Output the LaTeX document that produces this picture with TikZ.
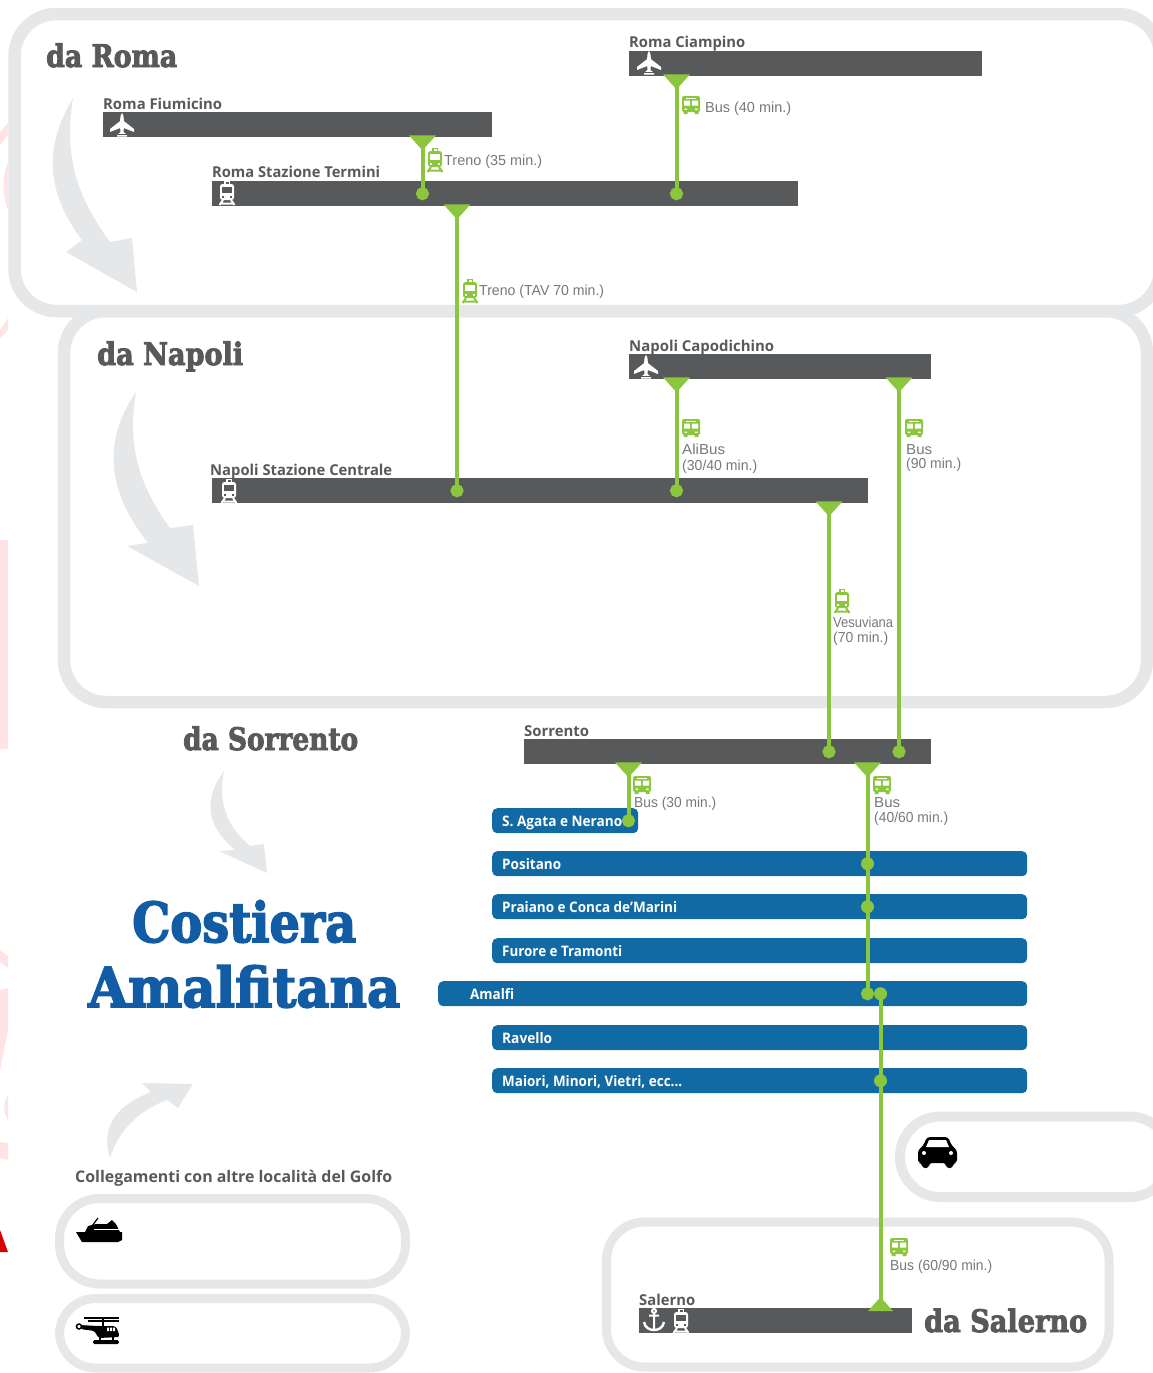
\documentclass[tikz,border=0pt]{standalone}
\usepackage{fontspec}
\usepackage{graphicx}
\usetikzlibrary{arrows.meta}
\newfontfamily\slabf{DejaVu Serif}[BoldFeatures={FakeBold=3}]
\newfontfamily\semif{Open Sans}
\newfontfamily\thinf{Liberation Sans}
\definecolor{band}{HTML}{E6E7E8}
\definecolor{darkbar}{HTML}{58595B}
\definecolor{bluebar}{HTML}{116AA3}
\definecolor{lime}{HTML}{8CC63F}
\definecolor{titleblue}{HTML}{125CA5}
\definecolor{thingrey}{HTML}{77787B}
\definecolor{pinkish}{HTML}{FFE3E5}
\newcommand\fitw[2]{\resizebox{#1pt}{\height}{#2}}
\tikzset{
  x=1pt,y=-1pt,
  panel/.style={draw=band,line width=#1,fill=none},
  panel/.default=10pt,
  greybar/.style={fill=darkbar,inner sep=0,anchor=north west,minimum height=25pt},
  bluestrip/.style={fill=bluebar,rounded corners=5pt,inner sep=0,anchor=north west,minimum height=25pt},
  link/.style={draw=lime,line width=4pt},
  down/.style={link,{Triangle[reversed,length=15pt,width=26pt,fill=lime]}-{Circle[length=13pt,fill=lime]},shorten >=-6.5pt,shorten <=-2pt},
  stopdot/.style={circle,fill=lime,inner sep=0,minimum size=13pt},
  head/.style={anchor=base west,inner sep=0,text=darkbar,font=\slabf\bfseries\fontsize{31pt}{31pt}\selectfont},
  big/.style={anchor=base west,inner sep=0,text=titleblue,font=\slabf\bfseries\fontsize{55pt}{55pt}\selectfont},
  place/.style={anchor=base west,inner sep=0,text=darkbar,font=\semif\bfseries\fontsize{15pt}{15pt}\selectfont},
  townl/.style={anchor=base west,inner sep=0,text=white,font=\semif\bfseries\fontsize{14.5pt}{15pt}\selectfont},
  note/.style={anchor=base west,inner sep=0,text=thingrey,font=\thinf\fontsize{14.5pt}{14pt}\selectfont},
  swoosh/.style={fill=band,draw=none},
  pics/planeic/.style={code={
    \fill[white] (0,-12) .. controls (1.8,-10) and (1.8,-6) .. (1.8,-4) -- (12,4) -- (12,7) -- (1.8,3) -- (1.6,7) -- (5,10) -- (5,11.5) -- (-5,11.5) -- (-5,10) -- (-1.6,7) -- (-1.8,3) -- (-12,7) -- (-12,4) -- (-1.8,-4) .. controls (-1.8,-6) and (-1.8,-10) .. (0,-12) -- cycle;
    \fill[darkbar] (-6,8.6) rectangle (6,9.6);
  }},
  pics/trainic/.style 2 args={code={
    \fill[#1,rounded corners=2.5pt] (-7,-9) rectangle (7,7);
    \fill[#1] (-3,-12) rectangle (3,-8);
    \fill[#2] (-1.5,-11) rectangle (1.5,-9.5);
    \fill[#2] (-5,-6) rectangle (5,-0.5);
    \fill[#2] (-5,3) rectangle (-3,5);
    \fill[#2] (3,3) rectangle (5,5);
    \draw[#1,line width=2pt] (-4,7) -- (-7.5,12) (4,7) -- (7.5,12) (-5.5,10.5) -- (5.5,10.5);
  }},
  pics/busic/.style={code={
    \fill[lime,rounded corners=2pt] (-9,-9) rectangle (9,7);
    \fill[lime] (-7.5,7) rectangle (-3.5,9) (3.5,7) rectangle (7.5,9);
    \fill[white] (-7,-4.5) rectangle (-1,0.5) (1,-4.5) rectangle (7,0.5);
    \fill[white] (-5,-7.5) rectangle (5,-6.3);
    \fill[white] (-6.5,3.5) rectangle (-4,4.8) (4,3.5) rectangle (6.5,4.8);
  }},
  pics/anchoric/.style={code={
    \draw[white,line width=2pt] (0,-9) circle (2pt) (0,-7) -- (0,10) (-5,-4.5) -- (5,-4.5);
    \draw[white,line width=2.4pt] (-10,2) .. controls (-9,8) and (-4,10) .. (0,10) .. controls (4,10) and (9,8) .. (10,2);
  }},
}
\begin{document}
\begin{tikzpicture}
\useasboundingbox (0,0) rectangle (1153,1373);
\clip (0,0) rectangle (1153,1373);
% stray background fragments at the left edge
\fill[pinkish] (0,540) rectangle (8,749);
\fill[pinkish] (0,132) -- (8,123) -- (8,135) -- (0,145) -- cycle;
\fill[pinkish] (8,163) .. controls (2,175) and (2,195) .. (8,210) -- cycle;
\fill[pinkish] (0,330) -- (8,318) -- (8,330) -- (0,338) -- cycle;
\fill[pinkish] (0,950) -- (8,956) -- (8,968) -- (0,962) -- cycle;
\fill[pinkish] (0,990) -- (8,988) -- (8,1000) -- (8,1030) -- (0,1070) -- (0,1040) -- cycle;
\fill[pinkish] (8,1095) .. controls (3,1103) and (3,1112) .. (8,1120) -- cycle;
\fill[pinkish] (0,1142) -- (8,1143) -- (8,1160) -- (0,1158) -- cycle;
\fill[red!85!black] (0,1230) -- (8,1252) -- (0,1252) -- cycle;

% panels
\draw[panel=12.5pt,rounded corners=42pt] (14.5,14) rectangle (1160,311);
\draw[panel=12.5pt,rounded corners=42pt] (64,311) rectangle (1147,702);
\draw[panel=10pt,rounded corners=40pt] (900,1116.5) rectangle (1170,1197);
\draw[panel=9pt,rounded corners=38pt] (606.5,1222) rectangle (1109,1367);
\draw[panel=9pt,rounded corners=40pt] (59.5,1198.5) rectangle (405.5,1284);
\draw[panel=9pt,rounded corners=36pt] (59.5,1298.5) rectangle (405.5,1368);

% grey swooshes
\fill[swoosh] (73,98) .. controls (42,150) and (48,195) .. (82,240) -- (66,252) -- (137,292) -- (132,238) -- (110,242) .. controls (72,190) and (65,150) .. (73,98) -- cycle;
\fill[swoosh] (136,392) .. controls (103,440) and (106,490) .. (148,543) -- (127,546) -- (199,586) -- (193,525) -- (170,528) .. controls (135,480) and (128,440) .. (136,392) -- cycle;
\fill[swoosh] (224,771) .. controls (203,800) and (206,825) .. (235,850) -- (219,851) -- (267,873) -- (264,844) -- (250,846) .. controls (225,825) and (218,800) .. (224,771) -- cycle;
\fill[swoosh] (110,1158) .. controls (100,1125) and (118,1105) .. (151,1092) -- (142,1083) -- (193,1084) -- (178,1108) -- (167,1100) .. controls (140,1110) and (118,1130) .. (110,1158) -- cycle;

% station bars
\node[greybar,minimum width=353pt] (ciamp) at (629,51) {};
\node[greybar,minimum width=389pt] (fiumi) at (103,112) {};
\node[greybar,minimum width=586pt] (termi) at (212,181) {};
\node[greybar,minimum width=302pt] (capo) at (629,354) {};
\node[greybar,minimum width=656pt] (cent) at (212,478) {};
\node[greybar,minimum width=407pt] (sorr) at (524,739) {};
\node[greybar,minimum width=273pt] (sale) at (639,1308) {};
% town bars
\node[bluestrip,minimum width=146pt] (agata) at (492,808) {};
\node[bluestrip,minimum width=535pt] (posi) at (492,851) {};
\node[bluestrip,minimum width=535pt] (prai) at (492,894) {};
\node[bluestrip,minimum width=535pt] (furo) at (492,938) {};
\node[bluestrip,minimum width=589pt] (amal) at (438,981) {};
\node[bluestrip,minimum width=535pt] (rave) at (492,1025) {};
\node[bluestrip,minimum width=535pt] (maio) at (492,1068) {};

% connectors
\draw[down] (422.5,0 |- fiumi.south) -- (422.5,0 |- termi.center);
\draw[down] (676.5,0 |- ciamp.south) -- (676.5,0 |- termi.center);
\draw[down] (457,0 |- termi.south) -- (457,0 |- cent.center);
\draw[down] (676.5,0 |- capo.south) -- (676.5,0 |- cent.center);
\draw[down] (899,0 |- capo.south) -- (899,0 |- sorr.center);
\draw[down] (829,0 |- cent.south) -- (829,0 |- sorr.center);
\draw[down] (628.5,0 |- sorr.south) -- (628.5,0 |- agata.center);
\draw[down] (867.5,0 |- sorr.south) -- (867.5,0 |- amal.center);
\node[stopdot] (dposi) at (867.5,0 |- posi.center) {};
\node[stopdot] (dprai) at (867.5,0 |- prai.center) {};
\node[stopdot] (damal) at (880.5,0 |- amal.center) {};
\node[stopdot] (dmaio) at (880.5,0 |- maio.center) {};
\draw[link,-{Triangle[reversed,length=14pt,width=24pt,fill=lime]},shorten >=-3pt] (damal.center) -- (880.5,0 |- sale.north);

% icons
\pic at (122,125) {planeic};
\pic at (649,63) {planeic};
\pic at (646,367) {planeic};
\pic at (227,193) {trainic={white}{darkbar}};
\pic at (229,491) {trainic={white}{darkbar}};
\pic at (681,1321) {trainic={white}{darkbar}};
\pic at (654,1320) {anchoric};
\pic at (435,160) {trainic={lime}{white}};
\pic at (470,291) {trainic={lime}{white}};
\pic at (842,601) {trainic={lime}{white}};
\pic at (691,105) {busic};
\pic at (691,428) {busic};
\pic at (914,428) {busic};
\pic at (642,785) {busic};
\pic at (882,785) {busic};
\pic at (899,1247) {busic};
% car
\fill[black,rounded corners=3pt] (918,1150) -- (923,1146) -- (927,1137) -- (948,1137) -- (952,1146) -- (957,1150) -- (957,1163) -- (953,1163) -- (953,1168) -- (946,1168) -- (946,1163) -- (929,1163) -- (929,1168) -- (922,1168) -- (922,1163) -- (918,1163) -- cycle;
\fill[white] (926,1147) -- (929,1140) -- (946,1140) -- (949,1147) -- cycle;
\fill[white] (924,1153) circle (2pt) (951,1153) circle (2pt);
% ship
\fill[black] (76,1232) -- (122,1232) -- (122,1240) -- (118,1242) -- (82,1242) -- cycle;
\fill[black] (85,1232) -- (88,1226) -- (96,1224) -- (107,1224) -- (112,1220) -- (116,1224) -- (120,1232) -- cycle;
\draw[black,line width=1.2pt] (92,1226) -- (98,1218);
\draw[white,line width=1.2pt] (94,1229.5) -- (120,1229.5);
% helicopter
\draw[black,line width=1.4pt] (84,1318) -- (119,1318) (88,1321) -- (119,1321) (103,1318) -- (103,1326);
\fill[black,rounded corners=3pt] (98,1326) -- (116,1326) -- (120,1337) -- (98,1338) -- (95,1331) -- (80,1329) -- (80,1325) -- cycle;
\draw[black,line width=1.5pt,fill=white] (79,1326.5) circle (2.5pt);
\fill[white] (107,1327.5) rectangle (109,1331) (110,1327.5) rectangle (112,1331) (113,1327.5) rectangle (115,1331);
\fill[black,rounded corners=1.5pt] (93,1340) rectangle (119,1344);
\draw[black,line width=1.2pt] (100,1337) -- (100,1341) (113,1337) -- (113,1341);

% headings
\node[head] (troma) at (46,67) {\fitw{131}{da Roma}};
\node[head] (tnap) at (97,365) {\fitw{146}{da Napoli}};
\node[head] (tsor) at (183,750) {\fitw{175}{da Sorrento}};
\node[head] (tsal) at (924,1332) {\fitw{163}{da Salerno}};
\node[big] (tcos) at (132,942) {\fitw{224}{Costiera}};
\node[big] (tama) at (88,1007) {\fitw{312}{Amalfitana}};
% place names
\node[place] (l1) at (629,47) {\fitw{116}{Roma Ciampino}};
\node[place] (l2) at (103,109) {\fitw{119}{Roma Fiumicino}};
\node[place] (l3) at (212,177) {\fitw{168}{Roma Stazione Termini}};
\node[place] (l4) at (629,351) {\fitw{145}{Napoli Capodichino}};
\node[place] (l5) at (210,475) {\fitw{182}{Napoli Stazione Centrale}};
\node[place] (l6) at (524,736) {\fitw{65}{Sorrento}};
\node[place] (l7) at (639,1305) {\fitw{56}{Salerno}};
\node[place,font=\semif\bfseries\fontsize{16pt}{16pt}\selectfont] (l8) at (75,1182) {\fitw{317}{Collegamenti con altre località del Golfo}};
% towns
\node[townl] (t1) at (502,826) {\fitw{120}{S. Agata e Nerano}};
\node[townl] (t2) at (502,869) {\fitw{59}{Positano}};
\node[townl] (t3) at (502,912) {\fitw{175}{Praiano e Conca de’Marini}};
\node[townl] (t4) at (502,956) {\fitw{120}{Furore e Tramonti}};
\node[townl] (t5) at (470,999) {\fitw{44}{Amalfi}};
\node[townl] (t6) at (502,1043) {\fitw{50}{Ravello}};
\node[townl] (t7) at (502,1086) {\fitw{180}{Maiori, Minori, Vietri, ecc...}};
% service notes
\node[note] (n1) at (444,165) {\fitw{98}{Treno (35 min.)}};
\node[note] (n2) at (705,112) {\fitw{86}{Bus (40 min.)}};
\node[note] (n3) at (479,295) {\fitw{125}{Treno (TAV 70 min.)}};
\node[note] (n4) at (682,454) {\fitw{43}{AliBus}};
\node[note] (n5) at (682,470) {\fitw{75}{(30/40 min.)}};
\node[note] (n6) at (906,454) {\fitw{26}{Bus}};
\node[note] (n7) at (906,468) {\fitw{55}{(90 min.)}};
\node[note] (n8) at (833,627) {\fitw{60}{Vesuviana}};
\node[note] (n9) at (833,642) {\fitw{55}{(70 min.)}};
\node[note] (n10) at (634,807) {\fitw{82}{Bus (30 min.)}};
\node[note] (n11) at (874,807) {\fitw{26}{Bus}};
\node[note] (n12) at (874,822) {\fitw{74}{(40/60 min.)}};
\node[note] (n13) at (890,1270) {\fitw{102}{Bus (60/90 min.)}};
\end{tikzpicture}
\end{document}
